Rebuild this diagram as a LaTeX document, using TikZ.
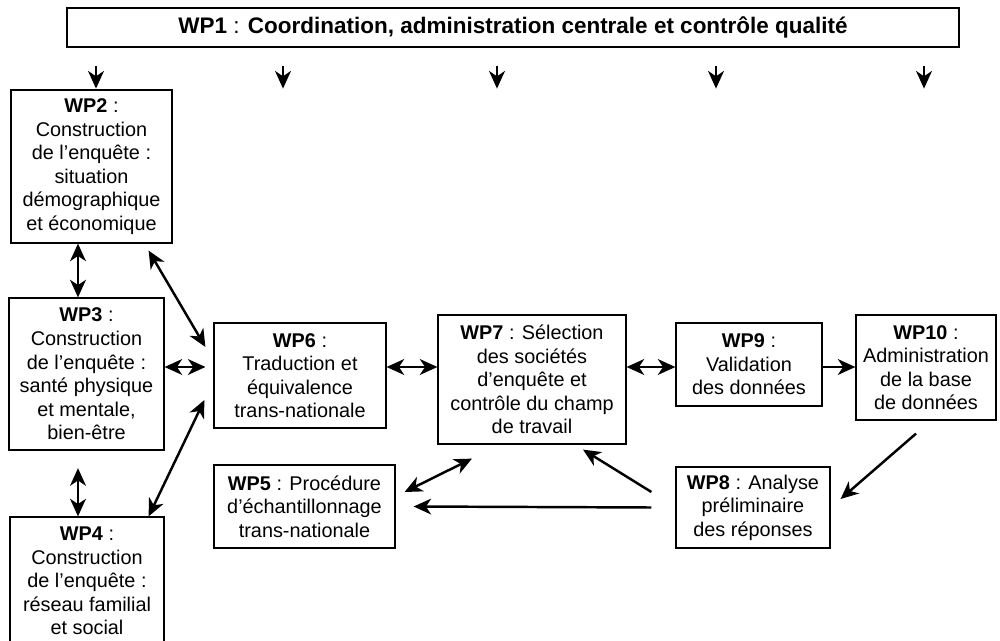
\documentclass[tikz,border=0pt]{standalone}
\usepackage{fontspec}
\setmainfont{Liberation Sans}
\usetikzlibrary{arrows.meta,positioning}

\begin{document}
\begin{tikzpicture}[x=0.02cm,y=-0.02cm,
  wp/.style={draw,line width=0.7pt,align=center,inner sep=0pt,
    font=\fontsize{11.3}{13.4}\selectfont},
  link/.style={line width=1.4pt},
  >={Stealth[length=10pt,width=9pt,inset=3pt]}]
\useasboundingbox (0,0) rectangle (1000,641);
\node[wp,minimum width=17.84cm,minimum height=0.78cm,font=\fontsize{12.8}{15}\selectfont] (wp_1) at (513,27.5)
  {\textbf{WP1} : \textbf{Coordination, administration centrale et contrôle qualité}};
\node[wp,minimum width=3.22cm,minimum height=3.06cm] (wp_2) at (91.5,166.5)
  {\textbf{WP2} :\\Construction\\de l’enquête :\\situation\\démographique\\et économique};
\node[wp,minimum width=3.10cm,minimum height=3.04cm] (wp_3) at (86.5,374)
  {\textbf{WP3} :\\Construction\\de l’enquête :\\santé physique\\et mentale,\\bien-être};
\node[wp,minimum width=3.08cm,minimum height=2.56cm] (wp_4) at (87,581)
  {\textbf{WP4} :\\Construction\\de l’enquête :\\réseau familial\\et social};
\node[wp,minimum width=3.62cm,minimum height=1.66cm] (wp_5) at (304.5,506.5)
  {\textbf{WP5} : Procédure\\d’échantillonnage\\trans-nationale};
\node[wp,minimum width=3.44cm,minimum height=2.10cm] (wp_6) at (300,375.5)
  {\textbf{WP6} :\\Traduction et\\équivalence\\trans-nationale};
\node[wp,minimum width=3.76cm,minimum height=2.58cm] (wp_7) at (532,379.5)
  {\textbf{WP7} : Sélection\\des sociétés\\d’enquête et\\contrôle du champ\\de travail};
\node[wp,minimum width=3.08cm,minimum height=1.62cm] (wp_8) at (753,507.5)
  {\textbf{WP8} : Analyse\\préliminaire\\des réponses};
\node[wp,minimum width=2.92cm,minimum height=1.66cm] (wp_9) at (749,364.5)
  {\textbf{WP9} :\\Validation\\des données};
\node[wp,minimum width=2.80cm,minimum height=2.10cm] (wp_10) at (926,367.5)
  {\textbf{WP10} :\\Administration\\de la base\\de données};

% WP1 feeds every work package
\foreach \x in {96,283,497,716,924}
  \draw[link,->] (wp_1.south -| \x,0) ++(0,18) -- ++(0,23);

\path[link,<->]
(wp_2.south -| 78,0) edge (wp_3.north -| 78,0)
(wp_3.south -| 78,0) edge[shorten <=10pt] (wp_4.north -| 78,0)
([shift={(-24,7)}]wp_2.south east) edge ([shift={(-8,-28.5)}]wp_6.west)
([shift={(-16,0)}]wp_4.north east) edge ([shift={(-9,24.5)}]wp_6.west)
(wp_3.east |- 0,367) edge[shorten >=4.5pt] (wp_6.west |- 0,367)
(wp_6.east |- 0,367) edge (wp_7.west |- 0,367)
(wp_7.east |- 0,367) edge (wp_9.west |- 0,367)
([shift={(9,-14.5)}]wp_5.east) edge ([shift={(-60,14)}]wp_7.south);

\path[link,->]
(wp_9.east |- 0,367) edge (wp_10.west |- 0,367)
([shift={(-10,13)}]wp_10.south) edge ([shift={(10,-8.5)}]wp_8.east)
([shift={(-24,-15.5)}]wp_8.west) edge ([shift={(51,5)}]wp_7.south)
([shift={(-24,0)}]wp_8.west) edge ([shift={(18,0)}]wp_5.east);
\end{tikzpicture}
\end{document}
